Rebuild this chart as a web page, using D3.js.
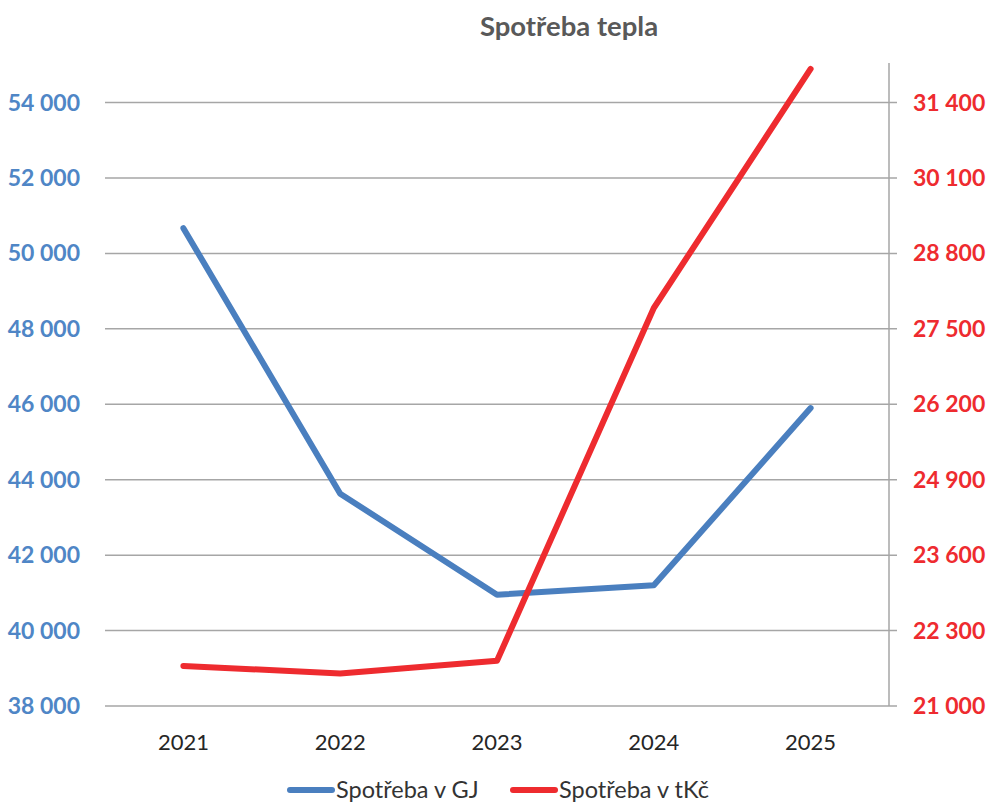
<!DOCTYPE html>
<html>
<head>
<meta charset="utf-8">
<script src="https://cdn.jsdelivr.net/npm/d3@7"></script>
<style>
  body { margin: 0; background: #fff; }
  svg { display: block; font-family: Lato, "Open Sans", sans-serif; }
</style>
</head>
<body>
<div></div>
<script>
// Data
var years = ["2021", "2022", "2023", "2024", "2025"];
var spotrebaGJ = [50670, 43630, 40950, 41200, 45900];   // left axis
var spotrebaTKc = [21690, 21560, 21780, 27860, 31980];  // right axis
var leftTicks = [38000, 40000, 42000, 44000, 46000, 48000, 50000, 52000, 54000];
var rightTicks = [21000, 22300, 23600, 24900, 26200, 27500, 28800, 30100, 31400];

var width = 991;
var height = 803;
var blue = "#4a7fbf";
var red = "#ee2b2f";

var svg = d3.select("div")
    .append("svg")
    .attr("width", width)
    .attr("height", height);

// plot box
var pLeft = 105, pRight = 889, pTop = 63, pBottom = 706;

var x = d3.scaleBand()
    .domain(years)
    .range([pLeft, pRight]);

// 2000 GJ per gridline on the left, 1300 tKc on the right
var yL = d3.scaleLinear()
    .domain([38000, 55050])
    .range([pBottom, pTop]);
var yR = d3.scaleLinear()
    .domain([21000, 21000 + (55050 - 38000) * 0.65])
    .range([pBottom, pTop]);

var fmt = function(v) {
    return d3.format(",")(v).replace(/,/g, " ");
};

// gridlines
svg.append("g")
    .selectAll("line")
    .data(leftTicks)
    .enter()
    .append("line")
    .attr("x1", pLeft)
    .attr("x2", pRight + 8)
    .attr("y1", (d) => yL(d))
    .attr("y2", (d) => yL(d))
    .attr("stroke", "#a6a6a6")
    .attr("stroke-width", 1.5);

// right axis line
svg.append("line")
    .attr("x1", pRight).attr("x2", pRight)
    .attr("y1", pTop).attr("y2", pBottom)
    .attr("stroke", "#a6a6a6")
    .attr("stroke-width", 1.5);

// left tick labels
svg.append("g")
    .selectAll("text")
    .data(leftTicks)
    .enter()
    .append("text")
    .attr("x", 80)
    .attr("y", (d) => yL(d))
    .attr("dy", "0.35em")
    .attr("text-anchor", "end")
    .attr("font-size", 23)
    .attr("font-weight", "bold")
    .attr("fill", "#4f86c6")
    .text(fmt);

// right tick labels
svg.append("g")
    .selectAll("text")
    .data(rightTicks)
    .enter()
    .append("text")
    .attr("x", 913)
    .attr("y", (d) => yR(d))
    .attr("dy", "0.35em")
    .attr("font-size", 23)
    .attr("font-weight", "bold")
    .attr("fill", red)
    .text(fmt);

// x labels
svg.append("g")
    .selectAll("text")
    .data(years)
    .enter()
    .append("text")
    .attr("x", (d) => x(d) + x.bandwidth() / 2)
    .attr("y", 742)
    .attr("dy", "0.35em")
    .attr("text-anchor", "middle")
    .attr("font-size", 22)
    .attr("fill", "#262626")
    .text((d) => d);

// lines
var lineL = d3.line()
    .x((d, i) => x(years[i]) + x.bandwidth() / 2)
    .y((d) => yL(d));
var lineR = d3.line()
    .x((d, i) => x(years[i]) + x.bandwidth() / 2)
    .y((d) => yR(d));

svg.append("path")
    .attr("d", lineL(spotrebaGJ))
    .attr("fill", "none")
    .attr("stroke", blue)
    .attr("stroke-width", 6)
    .attr("stroke-linecap", "round")
    .attr("stroke-linejoin", "round");

svg.append("path")
    .attr("d", lineR(spotrebaTKc))
    .attr("fill", "none")
    .attr("stroke", red)
    .attr("stroke-width", 6)
    .attr("stroke-linecap", "round")
    .attr("stroke-linejoin", "round");

// title
svg.append("text")
    .attr("x", 569)
    .attr("y", 26)
    .attr("dy", "0.35em")
    .attr("text-anchor", "middle")
    .attr("font-size", 27.5)
    .attr("font-weight", "bold")
    .attr("fill", "#595959")
    .text("Spotřeba tepla");

// legend
var legend = [
    { name: "Spotřeba v GJ", color: blue, x: 290 },
    { name: "Spotřeba v tKč", color: red, x: 513 }
];
var lg = svg.append("g")
    .selectAll("g")
    .data(legend)
    .enter()
    .append("g")
    .attr("transform", (d) => "translate(" + d.x + ",790)");
lg.append("line")
    .attr("x1", 0).attr("x2", 42)
    .attr("stroke", (d) => d.color)
    .attr("stroke-width", 6)
    .attr("stroke-linecap", "round");
lg.append("text")
    .attr("x", 46)
    .attr("dy", "0.35em")
    .attr("font-size", 23.5)
    .attr("fill", "#333")
    .text((d) => d.name);
</script>
</body>
</html>
